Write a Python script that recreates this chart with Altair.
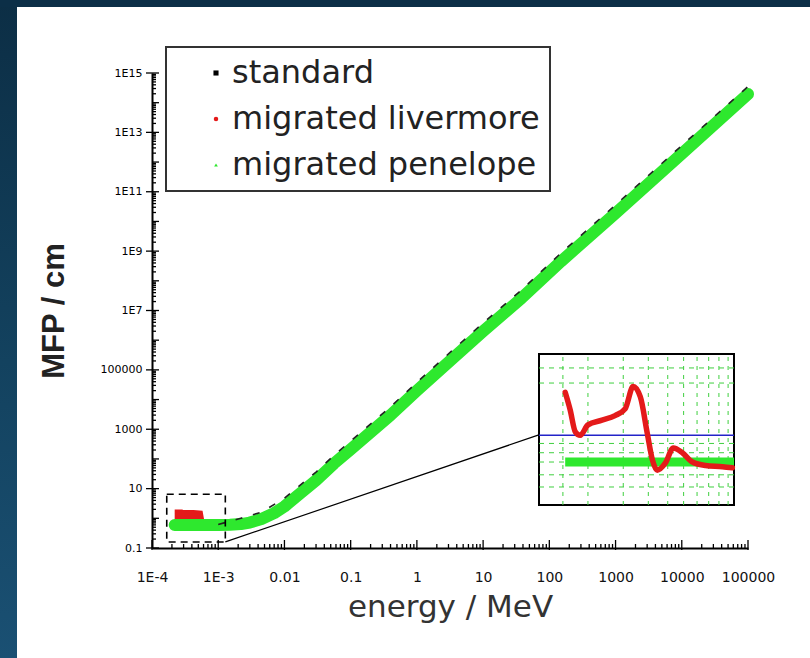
import altair as alt
import pandas as pd

# ---------------- data ----------------
series = ["standard", "migrated livermore", "migrated penelope"]
series_colors = ["#000000", "#e41a1a", "#2ee82e"]
series_shapes = ["square", "circle", "triangle-up"]

pen_E = [2.2e-4, 5e-4, 1e-3, 1.5e-3, 2.2e-3, 3e-3, 4.5e-3, 7e-3, 0.01, 0.0175, 0.03,
         0.056, 0.1, 0.4, 1, 3.3, 10, 38, 150, 1000, 1e4, 1e5]
pen_mfp = [0.6, 0.6, 0.6, 0.61, 0.64, 0.72, 0.95, 1.5, 2.5, 7, 19,
           70, 210, 3000, 2e4, 2.2e5, 2e6, 2.6e7, 4.5e8, 1.9e10, 1.9e12, 1.95e14]

std_E = [1e-3, 2.2e-3, 4.5e-3, 0.01, 0.0175, 0.03, 0.056, 0.1, 0.4, 1, 3.3, 10, 38,
         150, 1000, 1e4, 1e5]
std_mfp = [0.62, 1.0, 1.6, 4.75, 13.3, 36, 133, 400, 5700, 3.8e4, 4.2e5, 3.8e6, 4.9e7,
           8.6e8, 3.6e10, 3.6e12, 3.5e14]

liv_E = [2.2e-4, 2.6e-4, 2.75e-4, 3.0e-4, 3.2e-4, 3.5e-4, 4.2e-4, 5.0e-4, 5.3e-4,
         1e-3, 1.5e-3, 2.2e-3, 3e-3, 4.5e-3, 7e-3, 0.01, 0.0175, 0.03, 0.056, 0.1,
         0.4, 1, 3.3, 10, 38, 150, 1000, 1e4, 1e5]
liv_mfp = [1.35, 1.35, 1.05, 1.05, 1.3, 1.3, 1.3, 1.25, 0.6,
           0.6, 0.61, 0.64, 0.72, 0.95, 1.5, 2.5, 7, 19, 70, 210,
           3000, 2e4, 2.2e5, 2e6, 2.6e7, 4.5e8, 1.9e10, 1.9e12, 1.95e14]

# dashed zoom box and connector (main plot coordinates)
zoom_box_E = [1.67e-4, 1.28e-3]
zoom_box_mfp = [0.16, 6.5]
connector_E = [1.28e-3, 73]
connector_mfp = [0.16, 670]

# inset (its own coordinates)
ins_E_range = [1.14e-4, 1.07e-3]
ins_mfp_range = [0.3, 1.6]
ins_liv_E = [1.54e-4, 1.63e-4, 1.73e-4, 1.83e-4, 2.0e-4, 2.35e-4, 2.73e-4, 3.07e-4,
             3.36e-4, 3.65e-4, 3.95e-4, 4.19e-4, 4.43e-4, 4.86e-4, 5.33e-4, 5.91e-4,
             6.64e-4, 7.71e-4, 9.37e-4, 1.05e-3]
ins_liv_mfp = [1.27, 1.12, 0.93, 0.90, 0.99, 1.03, 1.07, 1.13,
               1.32, 1.23, 0.92, 0.69, 0.60, 0.66, 0.79, 0.75,
               0.67, 0.64, 0.63, 0.62]
ins_pen_E = [1.54e-4, 1.07e-3]
ins_pen_mfp = [0.67, 0.67]
ins_ref_mfp = [0.90]
ins_grid_E = [1.5e-4, 2e-4, 3e-4, 4e-4, 5e-4, 6e-4, 7e-4, 8e-4, 9e-4, 1e-3]
ins_grid_mfp = [0.455, 0.56, 0.67, 0.75, 0.83, 1.35, 1.48]

# axes
x_label_values = [1e-4, 1e-3, 0.01, 0.1, 1, 10, 100, 1000, 10000, 100000]
y_label_values = [0.1, 10, 1000, 1e5, 1e7, 1e9, 1e11, 1e13, 1e15]
x_decades = [10.0 ** k for k in range(-4, 6)]
x_minor = [m * 10.0 ** k for k in range(-4, 5) for m in range(2, 10)]
y_decades = [10.0 ** k for k in range(-1, 16)]
y_minor = [m * 10.0 ** k for k in range(-1, 15) for m in range(2, 10)]

# ---------------- layout ----------------
W, H = 596, 475
LEFT, TOP = 152, 73

xs = alt.Scale(type="log", domain=[1e-4, 1e5], nice=False)
ys = alt.Scale(type="log", domain=[0.1, 1e15], nice=False)

xaxis = alt.Axis(
    values=x_label_values, ticks=False, grid=False, domainColor="black", domainWidth=2,
    labelExpr="datum.value < 0.005 ? '1E' + round(log(datum.value)/LN10) : format(datum.value, '~g')",
    labelFont="DejaVu Sans", labelFontSize=14, labelColor="#111", labelPadding=22,
    labelFlush=False, labelOverlap=False,
    title="energy / MeV", titleFont="DejaVu Sans", titleFontSize=31, titleFontWeight="normal",
    titleColor="#333", titleBaseline="alphabetic", titleY=68, titleX=W / 2,
)
yaxis = alt.Axis(
    values=y_label_values, ticks=False, grid=False, domainColor="black", domainWidth=2,
    labelExpr="datum.value > 5e5 ? '1E' + round(log(datum.value)/LN10) : format(datum.value, '~g')",
    labelFont="DejaVu Sans", labelFontSize=11, labelColor="#000", labelPadding=10,
    labelFlush=False, labelOverlap=False,
    title="MFP / cm", titleFont="Liberation Sans", titleFontSize=31, titleFontWeight="bold",
    titleColor="#222", titleAngle=270, titleAlign="center", titleBaseline="alphabetic",
    titleX=-89, titleY=H / 2,
)

one = pd.DataFrame({"a": [0]})

# slide frame (dark blue bands)
grad = alt.LinearGradient(
    gradient="linear",
    stops=[alt.GradientStop(color="#0c2e45", offset=0),
           alt.GradientStop(color="#13425f", offset=0.55),
           alt.GradientStop(color="#1a5073", offset=1)],
    x1=0, x2=0, y1=0, y2=1,
)
left_band = alt.Chart(one).mark_rect(color=grad).encode(
    x=alt.value(-LEFT), x2=alt.value(-LEFT + 17), y=alt.value(-TOP), y2=alt.value(658 - TOP))
top_band = alt.Chart(one).mark_rect(color="#0c2f47").encode(
    x=alt.value(-LEFT), x2=alt.value(810 - LEFT), y=alt.value(-TOP), y2=alt.value(-TOP + 7))

# tick marks (inward, as in the reference)
ymin_df = pd.DataFrame({"v": y_minor})
ydec_df = pd.DataFrame({"v": y_decades})
ylab_df = pd.DataFrame({"v": y_label_values})
xmin_df = pd.DataFrame({"v": x_minor})
xdec_df = pd.DataFrame({"v": x_decades})

tick_style = dict(color="black", strokeWidth=1.3)
y_ticks_minor = alt.Chart(ymin_df).mark_rule(**tick_style).encode(
    y=alt.Y("v:Q", scale=ys, axis=yaxis), x=alt.value(0), x2=alt.value(4))
y_ticks_dec = alt.Chart(ydec_df).mark_rule(**tick_style).encode(
    y=alt.Y("v:Q", scale=ys, axis=yaxis), x=alt.value(0), x2=alt.value(7))
y_ticks_lab = alt.Chart(ylab_df).mark_rule(**tick_style).encode(
    y=alt.Y("v:Q", scale=ys, axis=yaxis), x=alt.value(-6), x2=alt.value(0))
x_ticks_minor = alt.Chart(xmin_df).mark_rule(**tick_style).encode(
    x=alt.X("v:Q", scale=xs, axis=xaxis), y=alt.value(H), y2=alt.value(H - 4))
x_ticks_dec = alt.Chart(xdec_df).mark_rule(**tick_style).encode(
    x=alt.X("v:Q", scale=xs, axis=xaxis), y=alt.value(H + 2), y2=alt.value(H - 8))


def curve(E, M, **kw):
    return alt.Chart(pd.DataFrame({"E": E, "M": M})).mark_line(**kw).encode(
        x=alt.X("E:Q", scale=xs, axis=xaxis), y=alt.Y("M:Q", scale=ys, axis=yaxis))


liv_line = curve(liv_E, liv_mfp, color=series_colors[1], strokeWidth=10, strokeCap="butt")
pen_line = curve(pen_E, pen_mfp, color=series_colors[2], strokeWidth=12, strokeCap="round",
                 strokeJoin="round")
std_line = curve(std_E, std_mfp, color="#222", strokeWidth=1.6, strokeDash=[7, 11])

box = alt.Chart(pd.DataFrame({"E0": [zoom_box_E[0]], "E1": [zoom_box_E[1]],
                              "M0": [zoom_box_mfp[0]], "M1": [zoom_box_mfp[1]]})).mark_rect(
    fillOpacity=0, stroke="black", strokeWidth=1.6, strokeDash=[7, 5]).encode(
    x=alt.X("E0:Q", scale=xs, axis=xaxis), x2="E1:Q",
    y=alt.Y("M0:Q", scale=ys, axis=yaxis), y2="M1:Q")

connector = alt.Chart(pd.DataFrame({"E0": [connector_E[0]], "E1": [connector_E[1]],
                                    "M0": [connector_mfp[0]], "M1": [connector_mfp[1]]})).mark_rule(
    color="black", strokeWidth=1.2).encode(
    x=alt.X("E0:Q", scale=xs, axis=xaxis), x2="E1:Q",
    y=alt.Y("M0:Q", scale=ys, axis=yaxis), y2="M1:Q")

legend_layer = alt.Chart(pd.DataFrame({"series": series})).mark_point(
    filled=True, opacity=1).encode(
    color=alt.Color("series:N", scale=alt.Scale(domain=series, range=series_colors), title=None),
    shape=alt.Shape("series:N", scale=alt.Scale(domain=series, range=series_shapes), title=None),
    size=alt.Size("series:N", scale=alt.Scale(domain=series, range=[26, 14, 42]), title=None),
).transform_filter("false")

main = alt.layer(left_band, top_band, liv_line, pen_line, std_line, box, connector,
                 y_ticks_minor, y_ticks_dec, y_ticks_lab, x_ticks_minor, x_ticks_dec,
                 legend_layer)

# ---------------- inset ----------------
ix = alt.Scale(type="log", domain=ins_E_range, range=[539 - LEFT, 734 - LEFT], nice=False)
iy = alt.Scale(type="linear", domain=ins_mfp_range, range=[505 - TOP, 354 - TOP],
               nice=False, zero=False)

frame = alt.Chart(pd.DataFrame({"E0": [ins_E_range[0]], "E1": [ins_E_range[1]],
                                "M0": [ins_mfp_range[0]], "M1": [ins_mfp_range[1]]})).mark_rect(
    fill="white", stroke="black", strokeWidth=2).encode(
    x=alt.X("E0:Q", scale=ix, axis=None), x2="E1:Q",
    y=alt.Y("M0:Q", scale=iy, axis=None), y2="M1:Q")

vgrid = alt.Chart(pd.DataFrame({"E": ins_grid_E, "lo": ins_mfp_range[0], "hi": ins_mfp_range[1]})
                  ).mark_rule(color="#3fcf3f", strokeWidth=1, strokeDash=[4, 5]).encode(
    x=alt.X("E:Q", scale=ix, axis=None), y=alt.Y("lo:Q", scale=iy, axis=None), y2="hi:Q")
hgrid = alt.Chart(pd.DataFrame({"M": ins_grid_mfp, "lo": ins_E_range[0], "hi": ins_E_range[1]})
                  ).mark_rule(color="#3fcf3f", strokeWidth=1, strokeDash=[5, 5]).encode(
    y=alt.Y("M:Q", scale=iy, axis=None), x=alt.X("lo:Q", scale=ix, axis=None), x2="hi:Q")
ref_line = alt.Chart(pd.DataFrame({"M": ins_ref_mfp, "lo": ins_E_range[0], "hi": ins_E_range[1]})
                     ).mark_rule(color="#2323c8", strokeWidth=1.6).encode(
    y=alt.Y("M:Q", scale=iy, axis=None), x=alt.X("lo:Q", scale=ix, axis=None), x2="hi:Q")


def icurve(E, M, **kw):
    return alt.Chart(pd.DataFrame({"E": E, "M": M})).mark_line(**kw).encode(
        x=alt.X("E:Q", scale=ix, axis=None), y=alt.Y("M:Q", scale=iy, axis=None))


ins_pen = icurve(ins_pen_E, ins_pen_mfp, color=series_colors[2], strokeWidth=9, strokeCap="butt")
ins_liv = icurve(ins_liv_E, ins_liv_mfp, color=series_colors[1], strokeWidth=5.5,
                 strokeJoin="round", strokeCap="round", interpolate="monotone")

inset = alt.layer(frame, vgrid, hgrid, ref_line, ins_pen, ins_liv)

chart = alt.layer(main, inset).resolve_scale(x="independent", y="independent").properties(
    width=W, height=H, autosize="none", background="white",
    padding={"left": LEFT, "top": TOP, "right": 810 - LEFT - W, "bottom": 658 - TOP - H},
).configure_view(stroke="transparent").configure_legend(
    orient="none", legendX=14, legendY=-26, strokeColor="#333", strokeWidth=2,
    fillColor="white", padding=10, symbolOffset=24, labelOffset=0, rowPadding=14,
    labelFont="DejaVu Sans", labelFontSize=32, labelColor="#222", labelLimit=0,
    symbolStrokeWidth=0,
)

chart.save("out.html", embed_options={"renderer": "svg", "actions": False})
